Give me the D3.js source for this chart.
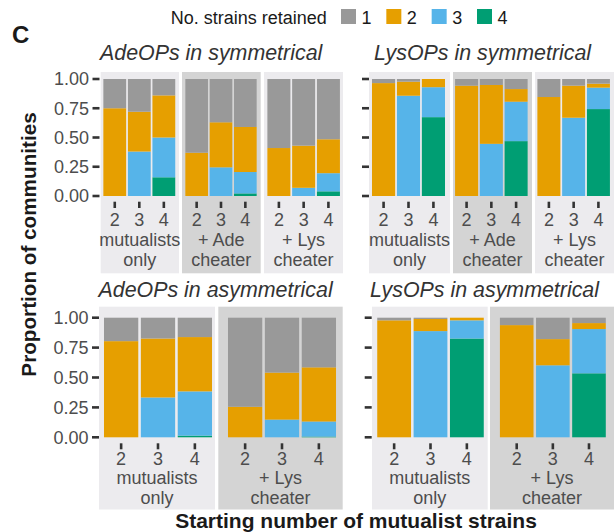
<!DOCTYPE html>
<html><head><meta charset="utf-8">
<script src="https://cdn.jsdelivr.net/npm/d3@7"></script>
<style>
body{margin:0;background:#fff}
svg{display:block}
text{font-family:"Liberation Sans",Arial,Helvetica,sans-serif}
</style>
</head><body>
<svg id="chart" width="616" height="532"></svg>
<script>
// ---------- DATA ----------
const xCategories = ["2", "3", "4"];            // starting number of mutualist strains
const strainKeys = ["1", "2", "3", "4"];        // no. strains retained
const yTickValues = [0, 0.25, 0.5, 0.75, 1];
const yTickLabels = ["0.00", "0.25", "0.50", "0.75", "1.00"];
const legendTitle = "No. strains retained";
const panelTitles = ["AdeOPs in symmetrical", "LysOPs in symmetrical",
                     "AdeOPs in asymmetrical", "LysOPs in asymmetrical"];
const symFacetLabels = [["mutualists", "only"], ["+ Ade", "cheater"], ["+ Lys", "cheater"]];
const asymFacetLabels = [["mutualists", "only"], ["+ Lys", "cheater"]];
const xAxisTitle = "Starting number of mutualist strains";
const yAxisTitle = "Proportion of communities";

// rows: start with 2, 3, 4 strains; columns: proportion retaining 1, 2, 3, 4 strains
const adeSymMutualists = [[0.25, 0.75, 0, 0], [0.28, 0.34, 0.38, 0], [0.14, 0.36, 0.34, 0.16]];
const adeSymAde        = [[0.63, 0.37, 0, 0], [0.37, 0.385, 0.245, 0], [0.41, 0.385, 0.183, 0.022]];
const adeSymLys        = [[0.59, 0.41, 0, 0], [0.57, 0.36, 0.07, 0], [0.515, 0.29, 0.155, 0.04]];

const lysSymMutualists = [[0.035, 0.965, 0, 0], [0.023, 0.12, 0.857, 0], [0, 0.07, 0.256, 0.674]];
const lysSymAde        = [[0.057, 0.943, 0, 0], [0.051, 0.503, 0.446, 0], [0.086, 0.108, 0.337, 0.469]];
const lysSymLys        = [[0.154, 0.846, 0, 0], [0.057, 0.274, 0.669, 0], [0.04, 0.034, 0.183, 0.743]];

const adeAsymMutualists = [[0.196, 0.804, 0, 0], [0.174, 0.493, 0.333, 0], [0.162, 0.454, 0.37, 0.014]];
const adeAsymLys        = [[0.745, 0.255, 0, 0], [0.459, 0.393, 0.148, 0], [0.415, 0.453, 0.126, 0.006]];

const lysAsymMutualists = [[0.022, 0.978, 0, 0], [0.011, 0.101, 0.888, 0], [0, 0.022, 0.152, 0.826]];
const lysAsymLys        = [[0.062, 0.938, 0, 0], [0.179, 0.219, 0.602, 0], [0.045, 0.05, 0.37, 0.535]];

// ---------- STYLE / LAYOUT ----------
const colors = {"1": "#999999", "2": "#E69F00", "3": "#56B4E9", "4": "#009E73"};
const bgLight = "#ECEBEE", bgDark = "#D4D4D4";
const textGray = "#4D4D4D";

const rows = [
  {y0: 196, y1: 79, bgTop: 72, bgBottom: 273.3, tick0: 201.7, tick1: 208,
   digitY: 226.3, line1Y: 245.5, line2Y: 265.5, titleY: 60},
  {y0: 437.3, y1: 317.7, bgTop: 306.7, bgBottom: 509.5, tick0: 443.3, tick1: 449.3,
   digitY: 465, line1Y: 484, line2Y: 503.5, titleY: 297}
];

const panels = [
  {row: 0, title: panelTitles[0], titleX: 100, axisX: 99.5, labels: true,
   facets: [
     {data: adeSymMutualists, label: symFacetLabels[0], bg: [100.7, 179], bars: [100.9, 177.7], dark: false},
     {data: adeSymAde,        label: symFacetLabels[1], bg: [182, 260.7], bars: [182.9, 259.1], dark: true},
     {data: adeSymLys,        label: symFacetLabels[2], bg: [264, 343],   bars: [264.9, 342.4], dark: false}]},
  {row: 0, title: panelTitles[1], titleX: 374, axisX: 369, labels: false,
   facets: [
     {data: lysSymMutualists, label: symFacetLabels[0], bg: [369, 450], bars: [369.5, 447.5], dark: false},
     {data: lysSymAde,        label: symFacetLabels[1], bg: [453, 532], bars: [452.6, 530.1], dark: true},
     {data: lysSymLys,        label: symFacetLabels[2], bg: [535, 614], bars: [534.9, 612.4], dark: false}]},
  {row: 1, title: panelTitles[2], titleX: 98.5, axisX: 99, labels: true,
   facets: [
     {data: adeAsymMutualists, label: asymFacetLabels[0], bg: [99, 215],      bars: [100.3, 215.7], dark: false},
     {data: adeAsymLys,        label: asymFacetLabels[1], bg: [218.3, 342.7], bars: [224.3, 339.7], dark: true}]},
  {row: 1, title: panelTitles[3], titleX: 370, axisX: 371.7, labels: false,
   facets: [
     {data: lysAsymMutualists, label: asymFacetLabels[0], bg: [372, 487.7], bars: [373.6, 487.4], dark: false},
     {data: lysAsymLys,        label: asymFacetLabels[1], bg: [490, 614],   bars: [496.3, 609.4], dark: true}]}
];

// ---------- DRAW ----------
const svg = d3.select("#chart");
const stackKeys = strainKeys.slice().reverse(); // 4 at bottom, 1 on top
const stack = d3.stack().keys(stackKeys);

panels.forEach(p => {
  const r = rows[p.row];
  const y = d3.scaleLinear().domain([0, 1]).range([r.y0, r.y1]);
  const g = svg.append("g");

  // panel title
  g.append("text").attr("x", p.titleX).attr("y", r.titleY)
    .attr("font-size", 21.4).attr("font-style", "italic").attr("fill", "#333")
    .text(p.title);

  p.facets.forEach(f => {
    g.append("rect").attr("x", f.bg[0]).attr("y", r.bgTop)
      .attr("width", f.bg[1] - f.bg[0]).attr("height", r.bgBottom - r.bgTop)
      .attr("fill", f.dark ? bgDark : bgLight);

    const x = d3.scaleBand().domain(xCategories).range(f.bars)
      .paddingInner(0.07).paddingOuter(0.1);

    const rowsData = xCategories.map((c, i) => {
      const o = {cat: c};
      strainKeys.forEach((k, j) => o[k] = f.data[i][j]);
      return o;
    });
    const series = stack(rowsData);
    g.selectAll(null).data(series).join("g")
      .attr("fill", s => colors[s.key])
      .selectAll("rect").data(s => s).join("rect")
      .attr("x", d => x(d.data.cat))
      .attr("width", x.bandwidth())
      .attr("y", d => y(d[1]))
      .attr("height", d => Math.max(0, y(d[0]) - y(d[1])));

    // x ticks and labels
    xCategories.forEach(c => {
      const cx = x(c) + x.bandwidth() / 2;
      g.append("line").attr("x1", cx).attr("x2", cx).attr("y1", r.tick0).attr("y2", r.tick1)
        .attr("stroke", "#333").attr("stroke-width", 2.6);
      g.append("text").attr("x", cx).attr("y", r.digitY).attr("text-anchor", "middle")
        .attr("font-size", 18).attr("fill", textGray).text(c);
    });
    const mid = (f.bg[0] + f.bg[1]) / 2;
    g.append("text").attr("x", mid).attr("y", r.line1Y).attr("text-anchor", "middle")
      .attr("font-size", 18).attr("fill", textGray).text(f.label[0]);
    g.append("text").attr("x", mid).attr("y", r.line2Y).attr("text-anchor", "middle")
      .attr("font-size", 18).attr("fill", textGray).text(f.label[1]);
  });

  // y axis ticks
  yTickValues.forEach((v, i) => {
    g.append("line").attr("x1", p.axisX - 7).attr("x2", p.axisX).attr("y1", y(v)).attr("y2", y(v))
      .attr("stroke", "#333").attr("stroke-width", 2.6);
    if (p.labels) {
      g.append("text").attr("x", p.axisX - 10.5).attr("y", y(v) + 6.3)
        .attr("text-anchor", "end").attr("font-size", 18).attr("fill", textGray)
        .text(yTickLabels[i]);
    }
  });
});

// legend
const lg = svg.append("g");
lg.append("text").attr("x", 170.7).attr("y", 24).attr("font-size", 18).attr("fill", "#1a1a1a").text(legendTitle);
const legendX = d3.scalePoint().domain(strainKeys).range([341, 477]);
strainKeys.forEach(k => {
  lg.append("rect").attr("x", legendX(k)).attr("y", 9).attr("width", 15).attr("height", 15).attr("fill", colors[k]);
  lg.append("text").attr("x", legendX(k) + 20.5).attr("y", 24).attr("font-size", 18).attr("fill", "#1a1a1a").text(k);
});

// panel letter
svg.append("text").attr("x", 12).attr("y", 43).attr("font-size", 24).attr("font-weight", "bold")
  .attr("fill", "#1a1a1a").text("C");

// axis titles
svg.append("text").attr("x", 356).attr("y", 528).attr("text-anchor", "middle")
  .attr("font-size", 21).attr("font-weight", "bold").attr("fill", "#1a1a1a").text(xAxisTitle);
svg.append("text").attr("transform", "translate(36,244.5) rotate(-90)").attr("text-anchor", "middle")
  .attr("font-size", 20.7).attr("font-weight", "bold").attr("fill", "#1a1a1a").text(yAxisTitle);
</script>
</body></html>
